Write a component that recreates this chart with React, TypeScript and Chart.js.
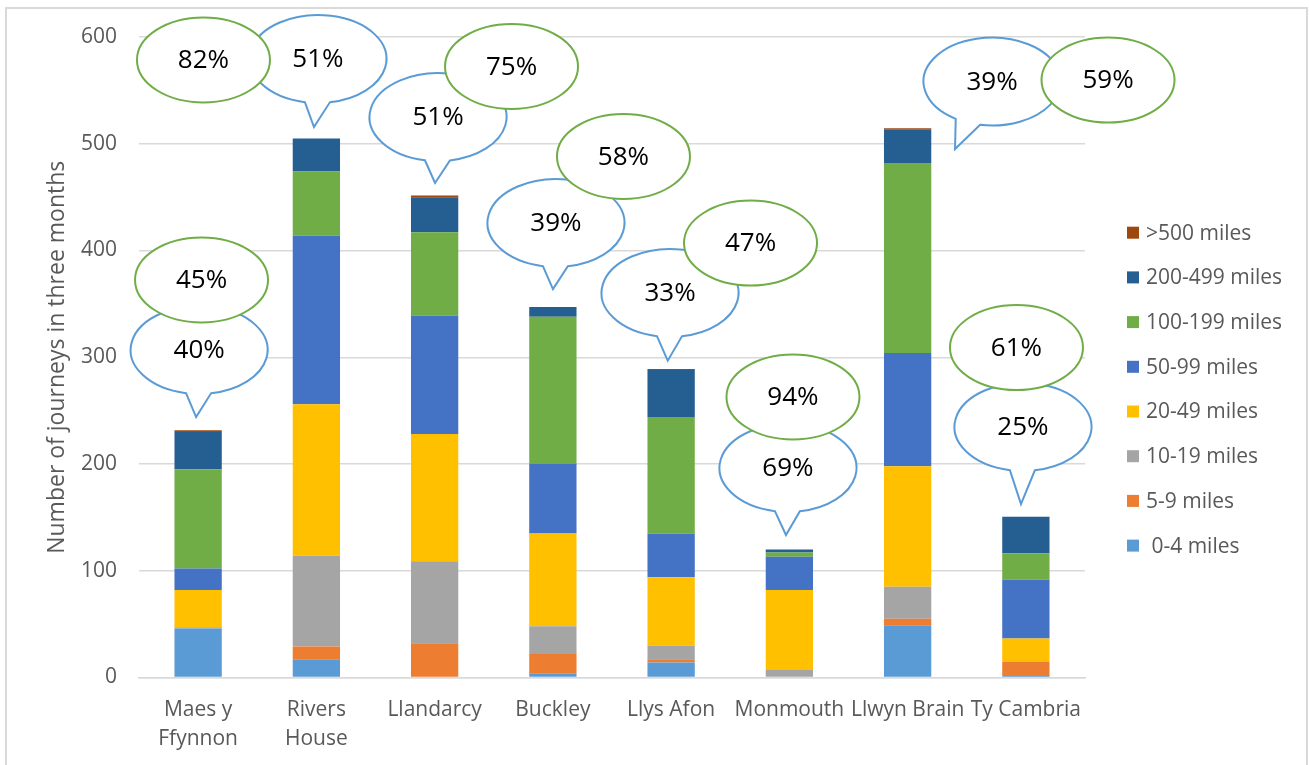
import React, { useEffect, useRef } from "react";
import { Chart, registerables } from "chart.js";

Chart.register(...registerables);

const categories: (string | string[])[] = [
  ["Maes y", "Ffynnon"],
  ["Rivers", "House"],
  "Llandarcy",
  "Buckley",
  "Llys Afon",
  "Monmouth",
  "Llwyn Brain",
  "Ty Cambria",
];

const seriesNames = [" 0-4 miles", "5-9 miles", "10-19 miles", "20-49 miles", "50-99 miles", "100-199 miles", "200-499 miles", ">500 miles"];
const seriesColors = ["#5B9BD5", "#ED7D31", "#A5A5A5", "#FFC000", "#4472C4", "#70AD47", "#255E91", "#9E480E"];

const miles0to4 = [46, 17, 0, 4, 14, 0, 49, 1.5];
const miles5to9 = [0, 12, 32, 18, 3, 0, 6, 13];
const miles10to19 = [1, 85, 77, 26, 13, 7, 30, 0];
const miles20to49 = [35, 142, 119, 87, 64, 75, 113, 22];
const miles50to99 = [20, 158, 111, 65, 41, 31, 106, 55];
const miles100to199 = [93, 60, 78, 138, 109, 4, 178, 25];
const miles200to499 = [35, 31, 33, 9, 44, 3, 31, 34];
const miles500plus = [1.5, 0, 1.5, 0, 1, 0, 1.5, 0];

const yTicks = [0, 100, 200, 300, 400, 500, 600];

// Callout texts
const blueLabels = ["40%", "51%", "51%", "39%", "33%", "69%", "39%", "25%"];
const greenLabels = ["45%", "82%", "75%", "58%", "47%", "94%", "59%", "61%"];

// Callout placement (annotation layout): pixel offset from category centre, and y in axis units
const blueDx = [1, 1.6, 3.4, 3.1, -1.1, -1.4, 84.4, -2.9];
const blueYv = [306.8, 579.4, 525, 425.8, 360.2, 196.3, 558.3, 234.7];
const tipDx = [-2, -2.4, 0.4, 0.1, -3.4, -3.4, 47.4, -4.9];
const tipYv = [244, 515.7, 463.3, 363.9, 296.8, 133.5, 495.1, 162.5];
const tailAngles = [[80, 101], [80, 101], [80, 101], [80, 101], [80, 101], [80, 101], [100, 122], [80, 101]];
const greenDx = [3.4, -112.9, 76.9, 70.6, 79.4, 3.6, 200.4, -9.4];
const greenYv = [372.4, 578.5, 572.4, 488.1, 407.0, 262.8, 559.7, 309.1];

const FONT = "'Open Sans', 'DejaVu Sans', sans-serif";
const GREY_TEXT = "#595959";

const seriesData = [miles0to4, miles5to9, miles10to19, miles20to49, miles50to99, miles100to199, miles200to499, miles500plus];

const framePlugin = {
  id: "frame",
  beforeDraw(chart: any) {
    const ctx = chart.ctx;
    ctx.save();
    ctx.fillStyle = "#ffffff";
    ctx.fillRect(0, 0, chart.width, chart.height);
    ctx.strokeStyle = "#d9d9d9";
    ctx.lineWidth = 2;
    ctx.strokeRect(6, 8, 1301, 780);
    ctx.restore();
  },
};

const legendPlugin = {
  id: "customLegend",
  afterDraw(chart: any) {
    const ctx = chart.ctx;
    ctx.save();
    ctx.font = `21px ${FONT}`;
    ctx.textBaseline = "middle";
    ctx.textAlign = "left";
    const n = seriesNames.length;
    for (let k = 0; k < n; k++) {
      const idx = n - 1 - k;
      const cy = 232.7 + 44.7 * k;
      ctx.fillStyle = seriesColors[idx];
      ctx.fillRect(1127, cy - 6, 12, 12);
      ctx.fillStyle = GREY_TEXT;
      ctx.fillText(seriesNames[idx], 1146, cy + 1);
    }
    ctx.restore();
  },
};

const calloutPlugin = {
  id: "callouts",
  afterDatasetsDraw(chart: any) {
    const ctx = chart.ctx;
    const xs = chart.scales.x;
    const ys = chart.scales.y;
    ctx.save();
    ctx.lineWidth = 2;
    ctx.font = `26px ${FONT}`;
    ctx.textAlign = "center";
    ctx.textBaseline = "middle";
    const brx = 68.5, bry = 44;
    const grx = 66.5, gry = 42.5;
    const rad = (d: number) => (d * Math.PI) / 180;
    // blue callouts (with tails)
    for (let i = 0; i < blueLabels.length; i++) {
      const base = xs.getPixelForValue(i);
      const cx = base + blueDx[i];
      const cy = ys.getPixelForValue(blueYv[i]);
      const tx = base + tipDx[i];
      const ty = ys.getPixelForValue(tipYv[i]);
      const [a1, a2] = tailAngles[i];
      ctx.beginPath();
      ctx.ellipse(cx, cy, brx, bry, 0, rad(a2), rad(a1 + 360), false);
      ctx.lineTo(tx, ty);
      ctx.closePath();
      ctx.fillStyle = "#ffffff";
      ctx.fill();
      ctx.strokeStyle = "#5B9BD5";
      ctx.stroke();
      ctx.fillStyle = "#000000";
      ctx.fillText(blueLabels[i], cx, cy + 1);
    }
    // green ellipses
    for (let i = 0; i < greenLabels.length; i++) {
      const cx = xs.getPixelForValue(i) + greenDx[i];
      const cy = ys.getPixelForValue(greenYv[i]);
      ctx.beginPath();
      ctx.ellipse(cx, cy, grx, gry, 0, 0, Math.PI * 2);
      ctx.fillStyle = "#ffffff";
      ctx.fill();
      ctx.strokeStyle = "#70AD47";
      ctx.stroke();
      ctx.fillStyle = "#000000";
      ctx.fillText(greenLabels[i], cx, cy + 1);
    }
    ctx.restore();
  },
};

export default function App() {
  const canvasRef = useRef<HTMLCanvasElement | null>(null);

  useEffect(() => {
    const canvas = canvasRef.current;
    if (!canvas) return;
    const chart = new Chart(canvas, {
      type: "bar",
      data: {
        labels: categories,
        datasets: seriesNames.map((name, i) => ({
          label: name,
          data: seriesData[i],
          backgroundColor: seriesColors[i],
          borderWidth: 0,
          categoryPercentage: 1,
          barPercentage: 0.4,
        })),
      },
      options: {
        responsive: false,
        animation: false,
        devicePixelRatio: 1,
        layout: { padding: { left: 40, right: 224, top: 37, bottom: 0 } },
        plugins: {
          legend: { display: false },
          tooltip: { enabled: false },
        },
        scales: {
          x: {
            stacked: true,
            grid: { display: false, drawTicks: false },
            border: { display: true, color: "#d9d9d9", width: 1.5 },
            ticks: {
              color: GREY_TEXT,
              font: { family: FONT, size: 21, lineHeight: 1.38 },
              padding: 18,
              maxRotation: 0,
              autoSkip: false,
            },
            afterFit: (s: any) => {
              s.height = 87.5;
            },
          },
          y: {
            stacked: true,
            min: 0,
            max: 600,
            afterBuildTicks: (s: any) => {
              s.ticks = yTicks.map((v) => ({ value: v }));
            },
            grid: { color: "#d9d9d9", lineWidth: 1.5, drawTicks: false },
            border: { display: false },
            ticks: {
              color: GREY_TEXT,
              font: { family: FONT, size: 21 },
              padding: 22,
            },
            title: {
              display: true,
              text: "Number of journeys in three months",
              color: GREY_TEXT,
              font: { family: FONT, size: 23 },
              padding: { top: 4, bottom: 4 },
            },
            afterFit: (s: any) => {
              s.width = 99;
            },
          },
        },
      },
      plugins: [framePlugin, calloutPlugin, legendPlugin],
    });
    return () => chart.destroy();
  }, []);

  return (
    <div style={{ position: "absolute", left: 0, top: 0, width: 1309, height: 765, background: "#fff" }}>
      <canvas ref={canvasRef} width={1309} height={765} style={{ display: "block" }} />
    </div>
  );
}
